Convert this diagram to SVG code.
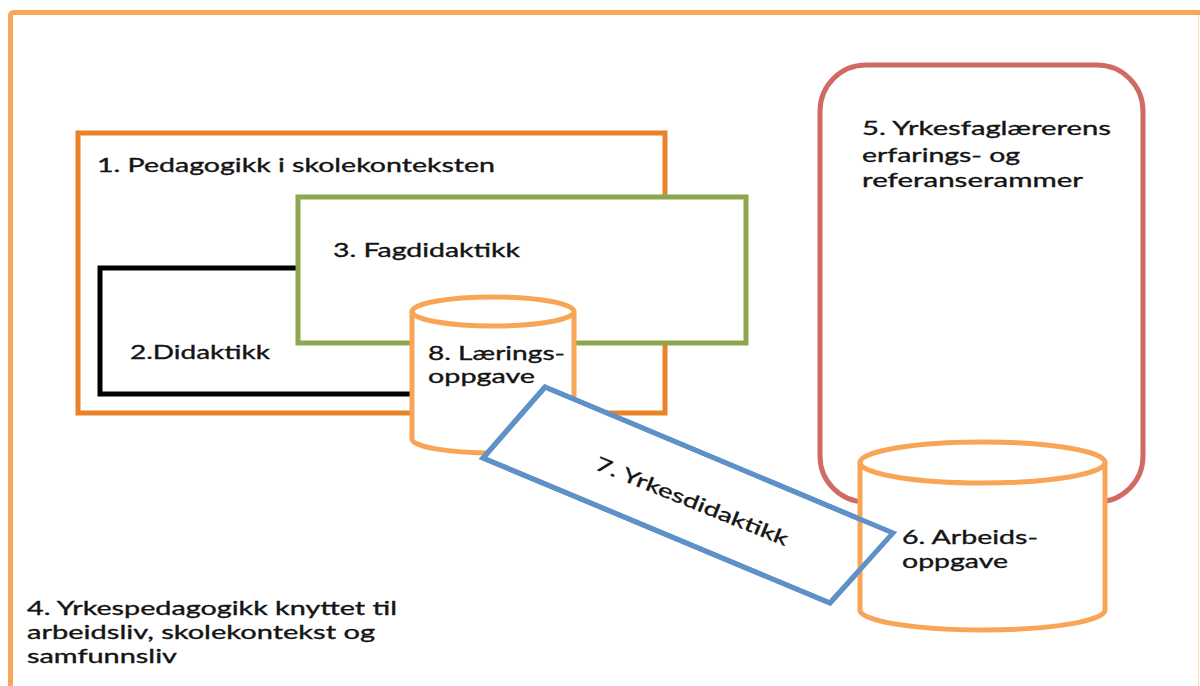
<svg xmlns="http://www.w3.org/2000/svg" width="1200" height="686" viewBox="0 0 1200 686">
  <style>
    .t { font-family: Lato, "Liberation Sans", sans-serif; font-size: 19.5px; fill: #141414; stroke: #141414; stroke-width: 0.35; }
    .box { fill: #ffffff; stroke-width: 5; }
    .cyl { fill: #ffffff; stroke: #F8A556; stroke-width: 5; }
  </style>
  <rect x="0" y="0" width="1200" height="686" fill="#ffffff"/>
  <g id="frame">
    <rect x="10.5" y="12.5" width="1250" height="720" rx="3" fill="none" stroke="#F8A65A" stroke-width="5"/>
    <line x1="1198.5" y1="15" x2="1198.5" y2="686" stroke="#F7D9BC" stroke-width="1"/>
    <text class="t" x="27" y="615" textLength="370" lengthAdjust="spacingAndGlyphs">4. Yrkespedagogikk knyttet til</text>
    <text class="t" x="27" y="639" textLength="348" lengthAdjust="spacingAndGlyphs">arbeidsliv, skolekontekst og</text>
    <text class="t" x="27" y="663" textLength="150" lengthAdjust="spacingAndGlyphs">samfunnsliv</text>
  </g>
  <g id="node1">
    <rect class="box" x="78" y="133" width="587" height="280" stroke="#E8832A"/>
    <text class="t" x="97" y="172" textLength="398" lengthAdjust="spacingAndGlyphs">1. Pedagogikk i skolekonteksten</text>
  </g>
  <g id="node2">
    <rect class="box" x="100" y="268" width="330" height="126" stroke="#000000"/>
    <text class="t" x="130" y="359" textLength="140" lengthAdjust="spacingAndGlyphs">2.Didaktikk</text>
  </g>
  <g id="node3">
    <rect class="box" x="298" y="197" width="448" height="146" stroke="#8DA74F"/>
    <text class="t" x="333" y="257" textLength="187" lengthAdjust="spacingAndGlyphs">3. Fagdidaktikk</text>
  </g>
  <g id="node8">
    <path class="cyl" d="M412,311.5 A81,14.5 0 0 1 574,311.5 L574,439 A81,14 0 0 1 412,439 Z"/>
    <path d="M412,311.5 A81,14.5 0 0 0 574,311.5" fill="none" stroke="#F8A556" stroke-width="5"/>
    <text class="t" x="428" y="360" textLength="137" lengthAdjust="spacingAndGlyphs">8. Lærings-</text>
    <text class="t" x="428" y="383" textLength="107" lengthAdjust="spacingAndGlyphs">oppgave</text>
  </g>
  <g id="connectors">
    <polygon id="node7-fill" points="545,387 893,533 830,603 483,458" fill="#ffffff" stroke="#5E91C8" stroke-width="5" stroke-linejoin="miter"/>
  </g>
  <g id="node5">
    <rect class="box" x="820" y="65" width="323" height="437" rx="46" ry="46" stroke="#CF6B63"/>
    <text class="t" x="862" y="135" textLength="249" lengthAdjust="spacingAndGlyphs">5. Yrkesfaglærerens</text>
    <text class="t" x="862" y="162" textLength="158" lengthAdjust="spacingAndGlyphs">erfarings- og</text>
    <text class="t" x="862" y="187" textLength="221" lengthAdjust="spacingAndGlyphs">referanserammer</text>
  </g>
  <g id="node6">
    <path class="cyl" d="M860,462.5 A122.5,20.5 0 0 1 1105,462.5 L1105,610 A122.5,20 0 0 1 860,610 Z"/>
    <path d="M860,462.5 A122.5,20.5 0 0 0 1105,462.5" fill="none" stroke="#F8A556" stroke-width="5"/>
    <text class="t" x="902" y="544" textLength="136" lengthAdjust="spacingAndGlyphs">6. Arbeids-</text>
    <text class="t" x="902" y="568" textLength="106" lengthAdjust="spacingAndGlyphs">oppgave</text>
  </g>
  <g id="node7">
    <polygon points="545,387 893,533 830,603 483,458" fill="none" stroke="#5E91C8" stroke-width="5"/>
    <text class="t" x="594" y="469" transform="rotate(22 594 469)" textLength="206" lengthAdjust="spacingAndGlyphs">7. Yrkesdidaktikk</text>
  </g>
</svg>
